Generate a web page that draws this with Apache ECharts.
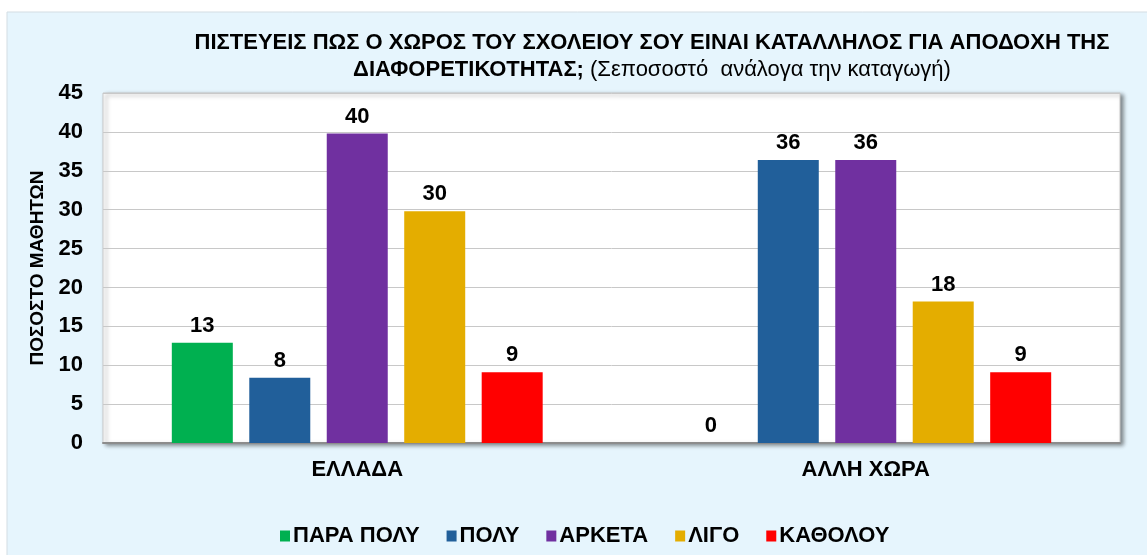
<!DOCTYPE html>
<html>
<head>
<meta charset="utf-8">
<script src="https://cdn.jsdelivr.net/npm/echarts@6/dist/echarts.min.js"></script>
<style>
  html, body { margin: 0; padding: 0; background: #fff; }
  #main { width: 1147px; height: 555px; }
</style>
</head>
<body>
<div id="main"></div>
<script>
// categories and series
const countries = ['ΕΛΛΑΔΑ', 'ΑΛΛΗ ΧΩΡΑ']
const answers = ['ΠΑΡΑ ΠΟΛΥ', 'ΠΟΛΥ', 'ΑΡΚΕΤΑ', 'ΛΙΓΟ', 'ΚΑΘΟΛΟΥ']
const colors = ['#00b050', '#215f9a', '#7030a0', '#e4ad00', '#ff0000']
// percent per answer: [ΕΛΛΑΔΑ, ΑΛΛΗ ΧΩΡΑ]
const paraPoly = [12.9, 0]
const poly = [8.4, 36.4]
const arketa = [39.8, 36.4]
const ligo = [29.8, 18.2]
const katholou = [9.1, 9.1]
const values = [paraPoly, poly, arketa, ligo, katholou]

const font = '"Liberation Sans", Arial, sans-serif'

let myChart = echarts.init(document.getElementById('main'))

let option = {
  textStyle: { fontFamily: font },
  graphic: [{
    type: 'rect',
    z: -10,
    shape: { x: 7, y: 12, width: 1145, height: 550 },
    style: { fill: '#e6f5fd', stroke: '#d3dde3', lineWidth: 1 }
  }],
  title: {
    left: 647,
    top: 24,
    textAlign: 'center',
    text: '{b|ΠΙΣΤΕΥΕΙΣ ΠΩΣ Ο ΧΩΡΟΣ ΤΟΥ ΣΧΟΛΕΙΟΥ ΣΟΥ ΕΙΝΑΙ ΚΑΤΑΛΛΗΛΟΣ ΓΙΑ ΑΠΟΔΟΧΗ ΤΗΣ}\n{b|ΔΙΑΦΟΡΕΤΙΚΟΤΗΤΑΣ;} {n|(Σεποσοστό  ανάλογα την καταγωγή)}',
    textStyle: {
      fontFamily: font,
      fontWeight: 'bold',
      fontSize: 22,
      color: '#000',
      rich: {
        b: { fontFamily: font, fontWeight: 'bold', fontSize: 22, color: '#000', lineHeight: 27 },
        n: { fontFamily: font, fontWeight: 'normal', fontSize: 22, color: '#000', lineHeight: 27 }
      }
    }
  },
  legend: {
    top: 520,
    left: 275,
    itemWidth: 10,
    itemHeight: 11,
    itemGap: 27,
    icon: 'rect',
    data: answers,
    textStyle: { fontFamily: font, fontWeight: 'bold', fontSize: 22, color: '#000', padding: [0, 0, 0, -2] }
  },
  grid: {
    left: 103,
    right: 27,
    top: 93,
    bottom: 112,
    show: true,
    backgroundColor: '#fff',
    borderColor: '#c8c8c8',
    borderWidth: 1,
    shadowColor: 'rgba(0,0,0,0.45)',
    shadowBlur: 4,
    shadowOffsetX: 3,
    shadowOffsetY: 2
  },
  xAxis: {
    type: 'category',
    data: countries,
    axisTick: { show: false },
    axisLine: { lineStyle: { color: '#8c8c8c', width: 2 } },
    axisLabel: { margin: 16, fontFamily: font, fontWeight: 'bold', fontSize: 22, color: '#000' }
  },
  yAxis: {
    type: 'value',
    min: 0,
    max: 45,
    interval: 5,
    name: 'ΠΟΣΟΣΤΟ ΜΑΘΗΤΩΝ',
    nameLocation: 'middle',
    nameGap: 53,
    nameTextStyle: { fontFamily: font, fontWeight: 'bold', fontSize: 19, color: '#000' },
    axisLine: { show: false },
    axisTick: { show: false },
    axisLabel: { margin: 20, fontFamily: font, fontWeight: 'bold', fontSize: 22, color: '#000' },
    splitLine: { lineStyle: { color: '#c8c8c8', width: 1 } }
  },
  series: answers.map((name, i) => ({
    name: name,
    type: 'bar',
    data: values[i],
    barWidth: 61,
    barGap: '27%',
    itemStyle: { color: colors[i] },
    label: {
      show: true,
      position: 'top',
      distance: 6,
      fontFamily: font,
      fontWeight: 'bold',
      fontSize: 22,
      color: '#000',
      formatter: p => Math.round(p.value)
    }
  }))
}

myChart.setOption(option)
</script>
</body>
</html>
